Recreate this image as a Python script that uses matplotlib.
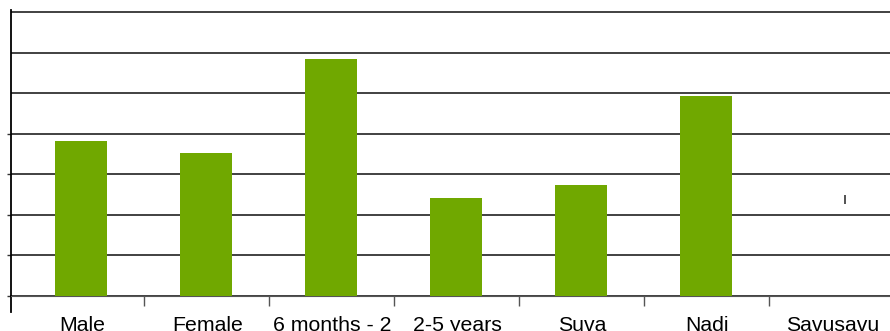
import numpy as np
import matplotlib.pyplot as plt

plt.rcParams['font.family'] = ['Liberation Sans', 'DejaVu Sans']

categories = ["Male", "Female", "6 months - 2", "2-5 years", "Suva", "Nadi", "Savusavu"]
values = [19.1, 17.6, 29.2, 12.1, 13.7, 24.6, 0.0]
# stray error-bar mark next to the Savusavu slot
mark_x = [6.11]
mark_lo = [11.3]
mark_hi = [12.5]

fig = plt.figure(figsize=(8.9, 3.31), dpi=100)
ax = fig.add_axes([11 / 890, 35 / 331, 879 / 890, 286 / 331])

x = np.arange(len(categories))
ax.bar(x, values, width=0.42, color="#70a800", zorder=3)
ax.vlines(mark_x, mark_lo, mark_hi, color="#444444", lw=1.3, zorder=3)

ax.set_ylim(0, 35.25)
ax.set_xlim(-0.56, 6.47)

# gridlines
for g in range(0, 40, 5):
    ax.axhline(g, color="#333333", lw=1.3, zorder=2)

ax.set_yticks(range(0, 25, 5))
ax.set_yticklabels([])
ax.tick_params(axis="y", length=3, width=1, color="#333333")

ax.set_xticks(x[:-1] + 0.5)
ax.set_xticklabels([])
ax.tick_params(axis="x", which="major", length=7, width=1, color="#555555")
ax.set_xticks(x + 0.01, minor=True)
ax.set_xticklabels(categories, minor=True, fontsize=15.3)
ax.tick_params(axis="x", which="minor", length=0, pad=14.5)

for s in ["top", "right"]:
    ax.spines[s].set_visible(False)
ax.spines["bottom"].set_color("#555555")
ax.spines["left"].set_color("black")
ax.spines["left"].set_linewidth(1.3)
ax.plot([0, 0], [0, -16 / 286], transform=ax.transAxes, color="black", lw=1.3, clip_on=False)

fig.savefig("out.png", dpi=100)
